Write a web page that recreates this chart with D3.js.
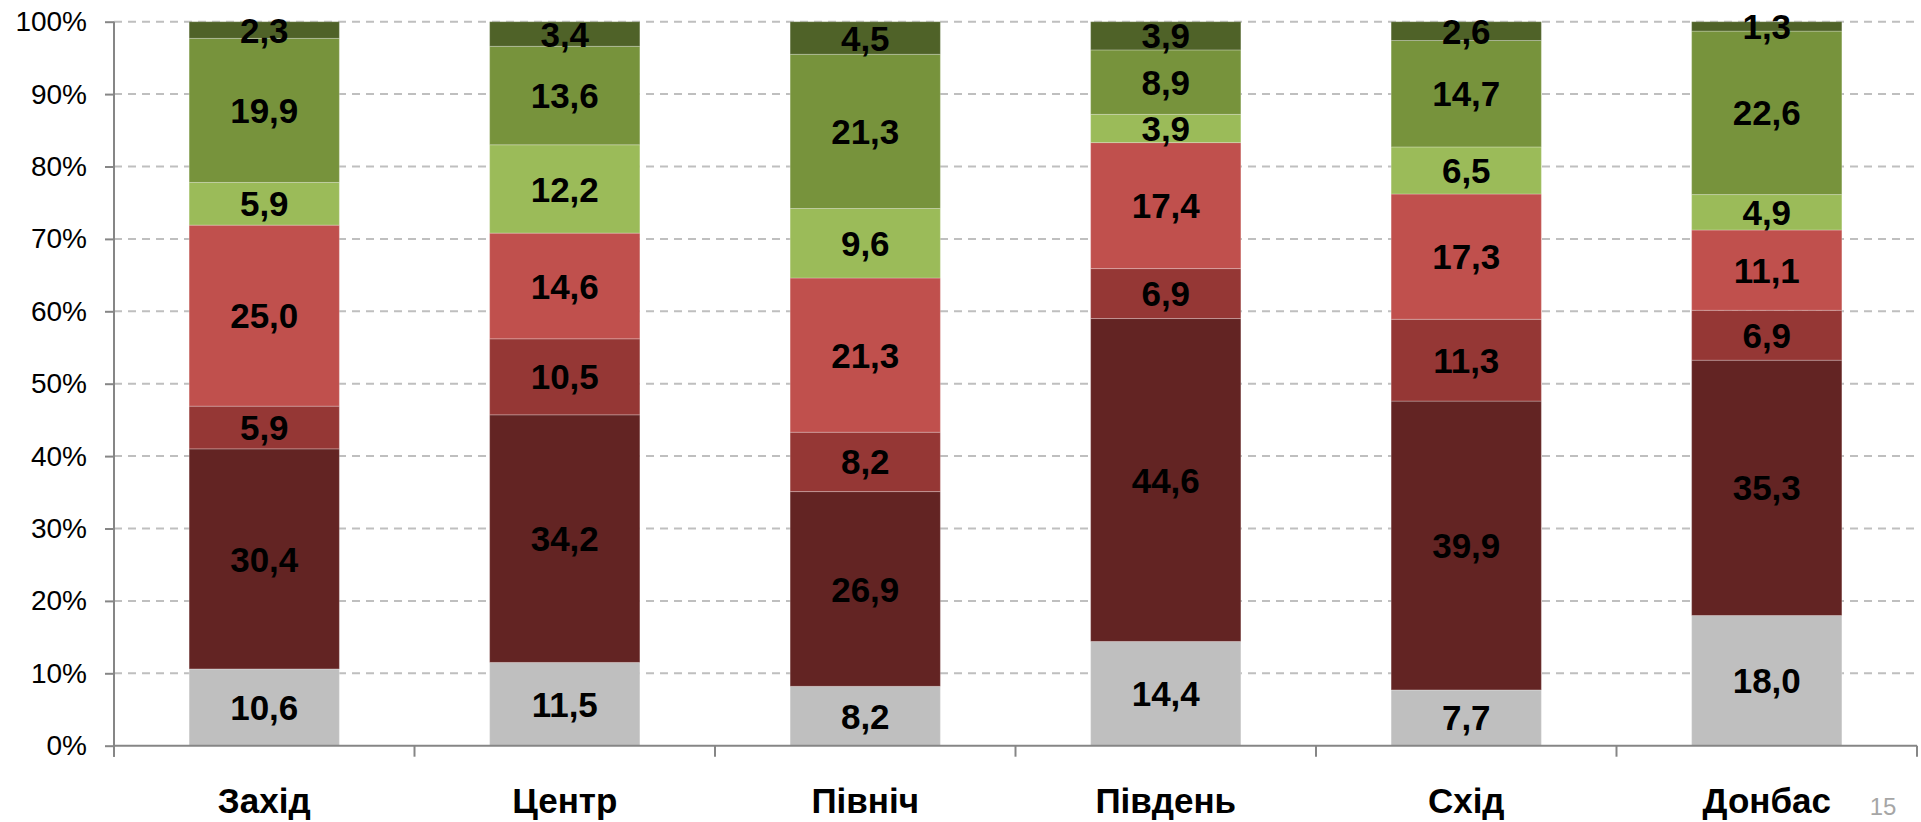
<!DOCTYPE html>
<html><head><meta charset="utf-8">
<script src="https://cdn.jsdelivr.net/npm/d3@7"></script>
<style>body{margin:0;background:#fff;overflow:hidden}svg{display:block}</style>
</head><body>
<script>
const categories = ["Захід","Центр","Північ","Південь","Схід","Донбас"];
const s1 = [10.6, 11.5, 8.2, 14.4, 7.7, 18.0];
const s2 = [30.4, 34.2, 26.9, 44.6, 39.9, 35.3];
const s3 = [5.9, 10.5, 8.2, 6.9, 11.3, 6.9];
const s4 = [25.0, 14.6, 21.3, 17.4, 17.3, 11.1];
const s5 = [5.9, 12.2, 9.6, 3.9, 6.5, 4.9];
const s6 = [19.9, 13.6, 21.3, 8.9, 14.7, 22.6];
const s7 = [2.3, 3.4, 4.5, 3.9, 2.6, 1.3];
const seriesValues = [s1,s2,s3,s4,s5,s6,s7];
const colors = ["#BFBFBF","#632423","#953735","#C0504D","#9BBB59","#77933C","#4F6228"];
const yTicks = [0,10,20,30,40,50,60,70,80,90,100];

const W=1921,H=822;
const svg=d3.select("body").append("svg").attr("width",W).attr("height",H);
const m={l:114,r:1917,t:21.7,b:745.7};
const x=d3.scaleBand().domain(categories).range([m.l,m.r]).paddingInner(0.5).paddingOuter(0.25);
const xb=d3.scaleBand().domain(categories).range([m.l,m.r]);
const y=d3.scaleLinear().domain([0,100]).range([m.b,m.t]);

// grid
svg.append("g").selectAll("line").data(yTicks.filter(d=>d>0)).join("line")
  .attr("x1",m.l).attr("x2",m.r).attr("y1",d=>y(d)).attr("y2",d=>y(d))
  .attr("stroke","#BFBFBF").attr("stroke-width",2).attr("stroke-dasharray","8,6");

// bars
const rows = categories.map((c,i)=>{const o={cat:c};seriesValues.forEach((s,k)=>o["k"+k]=s[i]);return o;});
const keys = seriesValues.map((s,k)=>"k"+k);
const norm = rows.map(r=>{const sum=d3.sum(keys,k=>r[k]);const o={cat:r.cat};keys.forEach(k=>o[k]=r[k]/sum*100);return o;});
const stack=d3.stack().keys(keys)(norm);
const g=svg.append("g");
stack.forEach((layer,k)=>{
  g.selectAll(null).data(layer).join("rect")
   .attr("x",d=>x(d.data.cat)).attr("width",x.bandwidth())
   .attr("y",d=>y(d[1])).attr("height",d=>y(d[0])-y(d[1]))
   .attr("fill",colors[k]).attr("stroke","rgba(255,255,255,0.25)").attr("stroke-width",1);
});
stack.forEach((layer,k)=>{
  g.selectAll(null).data(layer).join("text")
   .attr("x",d=>x(d.data.cat)+x.bandwidth()/2).attr("y",d=>y((d[0]+d[1])/2))
   .attr("dy","0.36em").attr("text-anchor","middle")
   .attr("font-family","Liberation Sans, Arial, sans-serif").attr("font-weight","bold").attr("font-size",35)
   .attr("fill","#000").text((d,i)=>seriesValues[k][i].toFixed(1).replace(".",","));
});

// y axis
const ya=svg.append("g").attr("transform",`translate(${m.l},0)`)
 .call(d3.axisLeft(y).tickValues(yTicks).tickFormat(d=>d+"%").tickSize(9).tickPadding(18));
ya.select(".domain").attr("stroke","#868686").attr("stroke-width",2).attr("d",`M0,${m.t}V${m.b+11}`);
ya.selectAll(".tick line").attr("stroke","#868686").attr("stroke-width",2);
ya.selectAll("text").attr("font-family","Liberation Sans, Arial, sans-serif").attr("font-size",28).attr("fill","#000");

// x axis
const xa=svg.append("g");
xa.append("line").attr("x1",m.l).attr("x2",m.r).attr("y1",m.b).attr("y2",m.b).attr("stroke","#868686").attr("stroke-width",2);
const bounds=categories.map(c=>xb(c)).concat([m.r]);
xa.selectAll(null).data(bounds).join("line").attr("x1",d=>d).attr("x2",d=>d).attr("y1",m.b).attr("y2",m.b+11)
  .attr("stroke","#868686").attr("stroke-width",2);
xa.selectAll(null).data(categories).join("text")
  .attr("x",d=>xb(d)+xb.bandwidth()/2).attr("y",813).attr("text-anchor","middle")
  .attr("font-family","Liberation Sans, Arial, sans-serif").attr("font-weight","bold").attr("font-size",35)
  .text(d=>d);

svg.append("text").attr("x",1883).attr("y",815).attr("text-anchor","middle")
  .attr("font-family","Liberation Sans, Arial, sans-serif").attr("font-size",24).attr("fill","#A6A6A6").text("15");
</script>
</body></html>
